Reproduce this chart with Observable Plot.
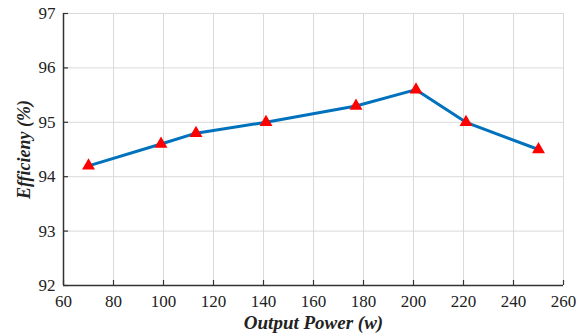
<!DOCTYPE html>
<html>
<head>
<meta charset="utf-8">
<script src="https://cdn.jsdelivr.net/npm/d3@7"></script>
<script src="https://cdn.jsdelivr.net/npm/@observablehq/plot@0.6"></script>
<style>
  html, body { margin: 0; padding: 0; background: #fff; }
  #chart svg text { font-family: 'Liberation Serif', 'Times New Roman', serif !important; }
</style>
</head>
<body>
<div id="chart"></div>
<script>
const power = [70, 99, 113, 141, 177, 201, 221, 250];
const efficiency = [94.2, 94.6, 94.8, 95.0, 95.3, 95.6, 95.0, 94.5];
const xTicks = [60, 80, 100, 120, 140, 160, 180, 200, 220, 240, 260];
const yTicks = [92, 93, 94, 95, 96, 97];

const data = power.map((p, i) => ({p, e: efficiency[i]}));

const W = 587, H = 334;
const mt = 13, mb = 49, ml = 63, mr = 24;
const ph = H - mt - mb, pw = W - ml - mr;
const serif = "Liberation Serif";

const chart = Plot.plot({
  width: W, height: H,
  marginTop: mt, marginBottom: mb, marginLeft: ml, marginRight: mr,
  style: {fontFamily: serif, fontSize: "17px", color: "#222", background: "#fff"},
  x: {domain: [60, 260]},
  y: {domain: [92, 97]},
  marks: [
    Plot.gridX(xTicks, {stroke: "#d9d9d9", strokeOpacity: 1}),
    Plot.gridY(yTicks, {stroke: "#d9d9d9", strokeOpacity: 1}),
    Plot.ruleX([60], {stroke: "#333", strokeWidth: 1.5}),
    Plot.ruleY([92], {stroke: "#333", strokeWidth: 1.5}),
    Plot.tickX(xTicks, {x: d => d, stroke: "#333", strokeWidth: 1.2, insetTop: ph - 5}),
    Plot.tickY(yTicks, {y: d => d, stroke: "#333", strokeWidth: 1.2, insetRight: pw - 5}),
    Plot.axisX(xTicks, {tickSize: 0, tickPadding: 9, tickFormat: d3.format("d"), label: null, fontSize: 17, fontFamily: serif, fill: "#222"}),
    Plot.axisY(yTicks, {tickSize: 0, tickPadding: 8, tickFormat: d3.format("d"), label: null, fontSize: 17, fontFamily: serif, fill: "#222"}),
    Plot.axisX({ticks: [], label: "Output Power (w)", labelAnchor: "center", labelArrow: "none", labelOffset: 43, fontWeight: "bold", fontStyle: "italic", fontSize: 19, fontFamily: serif, fill: "#222"}),
    Plot.axisY({ticks: [], label: "Efficieny (%)", labelAnchor: "center", labelArrow: "none", labelOffset: 46, fontWeight: "bold", fontStyle: "italic", fontSize: 18, fontFamily: serif, fill: "#222"}),
    Plot.line(data, {x: "p", y: "e", stroke: "#0072BD", strokeWidth: 3}),
    Plot.dot(data, {x: "p", y: "e", symbol: "triangle", r: 4.8, fill: "#ff0000", stroke: "none"})
  ]
});
document.getElementById("chart").appendChild(chart);
</script>
</body>
</html>
